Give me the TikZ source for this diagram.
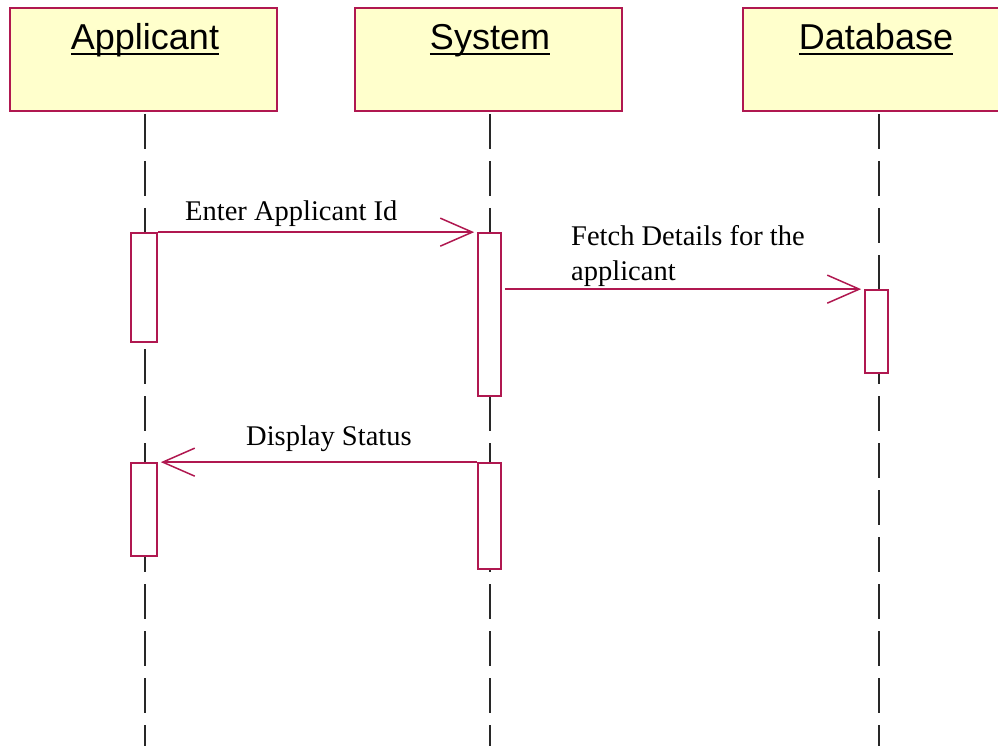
\documentclass[tikz,border=0pt]{standalone}
\usepackage{fontspec}
\setmainfont{Liberation Serif}
\newfontfamily\hdrfont{Liberation Sans}
\usetikzlibrary{arrows.meta}
\definecolor{crim}{RGB}{176,24,80}
\definecolor{hdrfill}{RGB}{255,255,204}
\definecolor{lifec}{RGB}{40,40,40}
\tikzset{
  header/.style={draw=crim, fill=hdrfill, line width=2pt, minimum width=267pt, minimum height=103pt, inner sep=0pt},
  hdrtext/.style={font=\hdrfont\fontsize{36}{40}\selectfont, inner sep=0pt, anchor=base},
  uline/.style={draw=black, line width=2pt},
  lifeline/.style={draw=lifec, line width=2pt, dash pattern=on 35pt off 12pt},
  actbox/.style={draw=crim, fill=white, line width=1.7pt, inner sep=0pt},
  msg/.style={draw=crim, line width=1.8pt, -{Straight Barb[length=32pt,width=28pt,line width=1.5pt]}},
  lbl/.style={font=\fontsize{28.5}{34}\selectfont, inner sep=0pt, anchor=base west}
}
\begin{document}
\begin{tikzpicture}[x=1pt,y=-1pt]
\useasboundingbox (0,0) rectangle (998,746);
\clip (0,0) rectangle (998,746);
% headers
\node[header] (app) at (143.5,59.5) {};
\node[header] (sys) at (488,59.5) {};
\node[header] (db) at (876,59.5) {};
\node[hdrtext] (appT) at (145,50) {Applicant};
\node[hdrtext] (sysT) at (490,50) {System};
\node[hdrtext] (dbT) at (876,50) {Database};
\draw[uline] ([yshift=-4.5pt]appT.base west) -- ([yshift=-4.5pt]appT.base east);
\draw[uline] ([yshift=-4.5pt]sysT.base west) -- ([yshift=-4.5pt]sysT.base east);
\draw[uline] ([yshift=-4.5pt]dbT.base west) -- ([yshift=-4.5pt]dbT.base east);
% lifelines
\coordinate (appTop) at (145,114);
\coordinate (sysTop) at (490,114);
\coordinate (dbTop) at (879,114);
\coordinate (appEnd) at (145,760);
\coordinate (sysEnd) at (490,760);
\coordinate (dbEnd) at (879,760);
\draw[lifeline] (appTop) -- (appEnd);
\draw[lifeline] (sysTop) -- (sysEnd);
\draw[lifeline] (dbTop) -- (dbEnd);
% activation boxes
\node[actbox, minimum width=26pt, minimum height=109pt] (a1) at (144,287.5) {};
\node[actbox, minimum width=23pt, minimum height=163pt] (s1) at (489.5,314.5) {};
\node[actbox, minimum width=23pt, minimum height=83pt] (d1) at (876.5,331.5) {};
\node[actbox, minimum width=26pt, minimum height=93pt] (a2) at (144,509.5) {};
\node[actbox, minimum width=23pt, minimum height=106pt] (s2) at (489.5,516) {};
% messages
\draw[msg, shorten >=3pt] (a1.north east) -- (s1.north west);
\draw[msg, shorten >=3pt] ([xshift=3pt]d1.north west -| s1.east) -- (d1.north west);
\draw[msg, shorten >=3pt] (s2.north west) -- (a2.north east);
% labels
\node[lbl] (m1) at (185,220) {Enter Applicant Id};
\node[lbl] (m2a) at (571,245) {Fetch Details for the};
\node[lbl] (m2b) at (571,280) {applicant};
\node[lbl] (m3) at (246,445) {Display Status};
\end{tikzpicture}
\end{document}
